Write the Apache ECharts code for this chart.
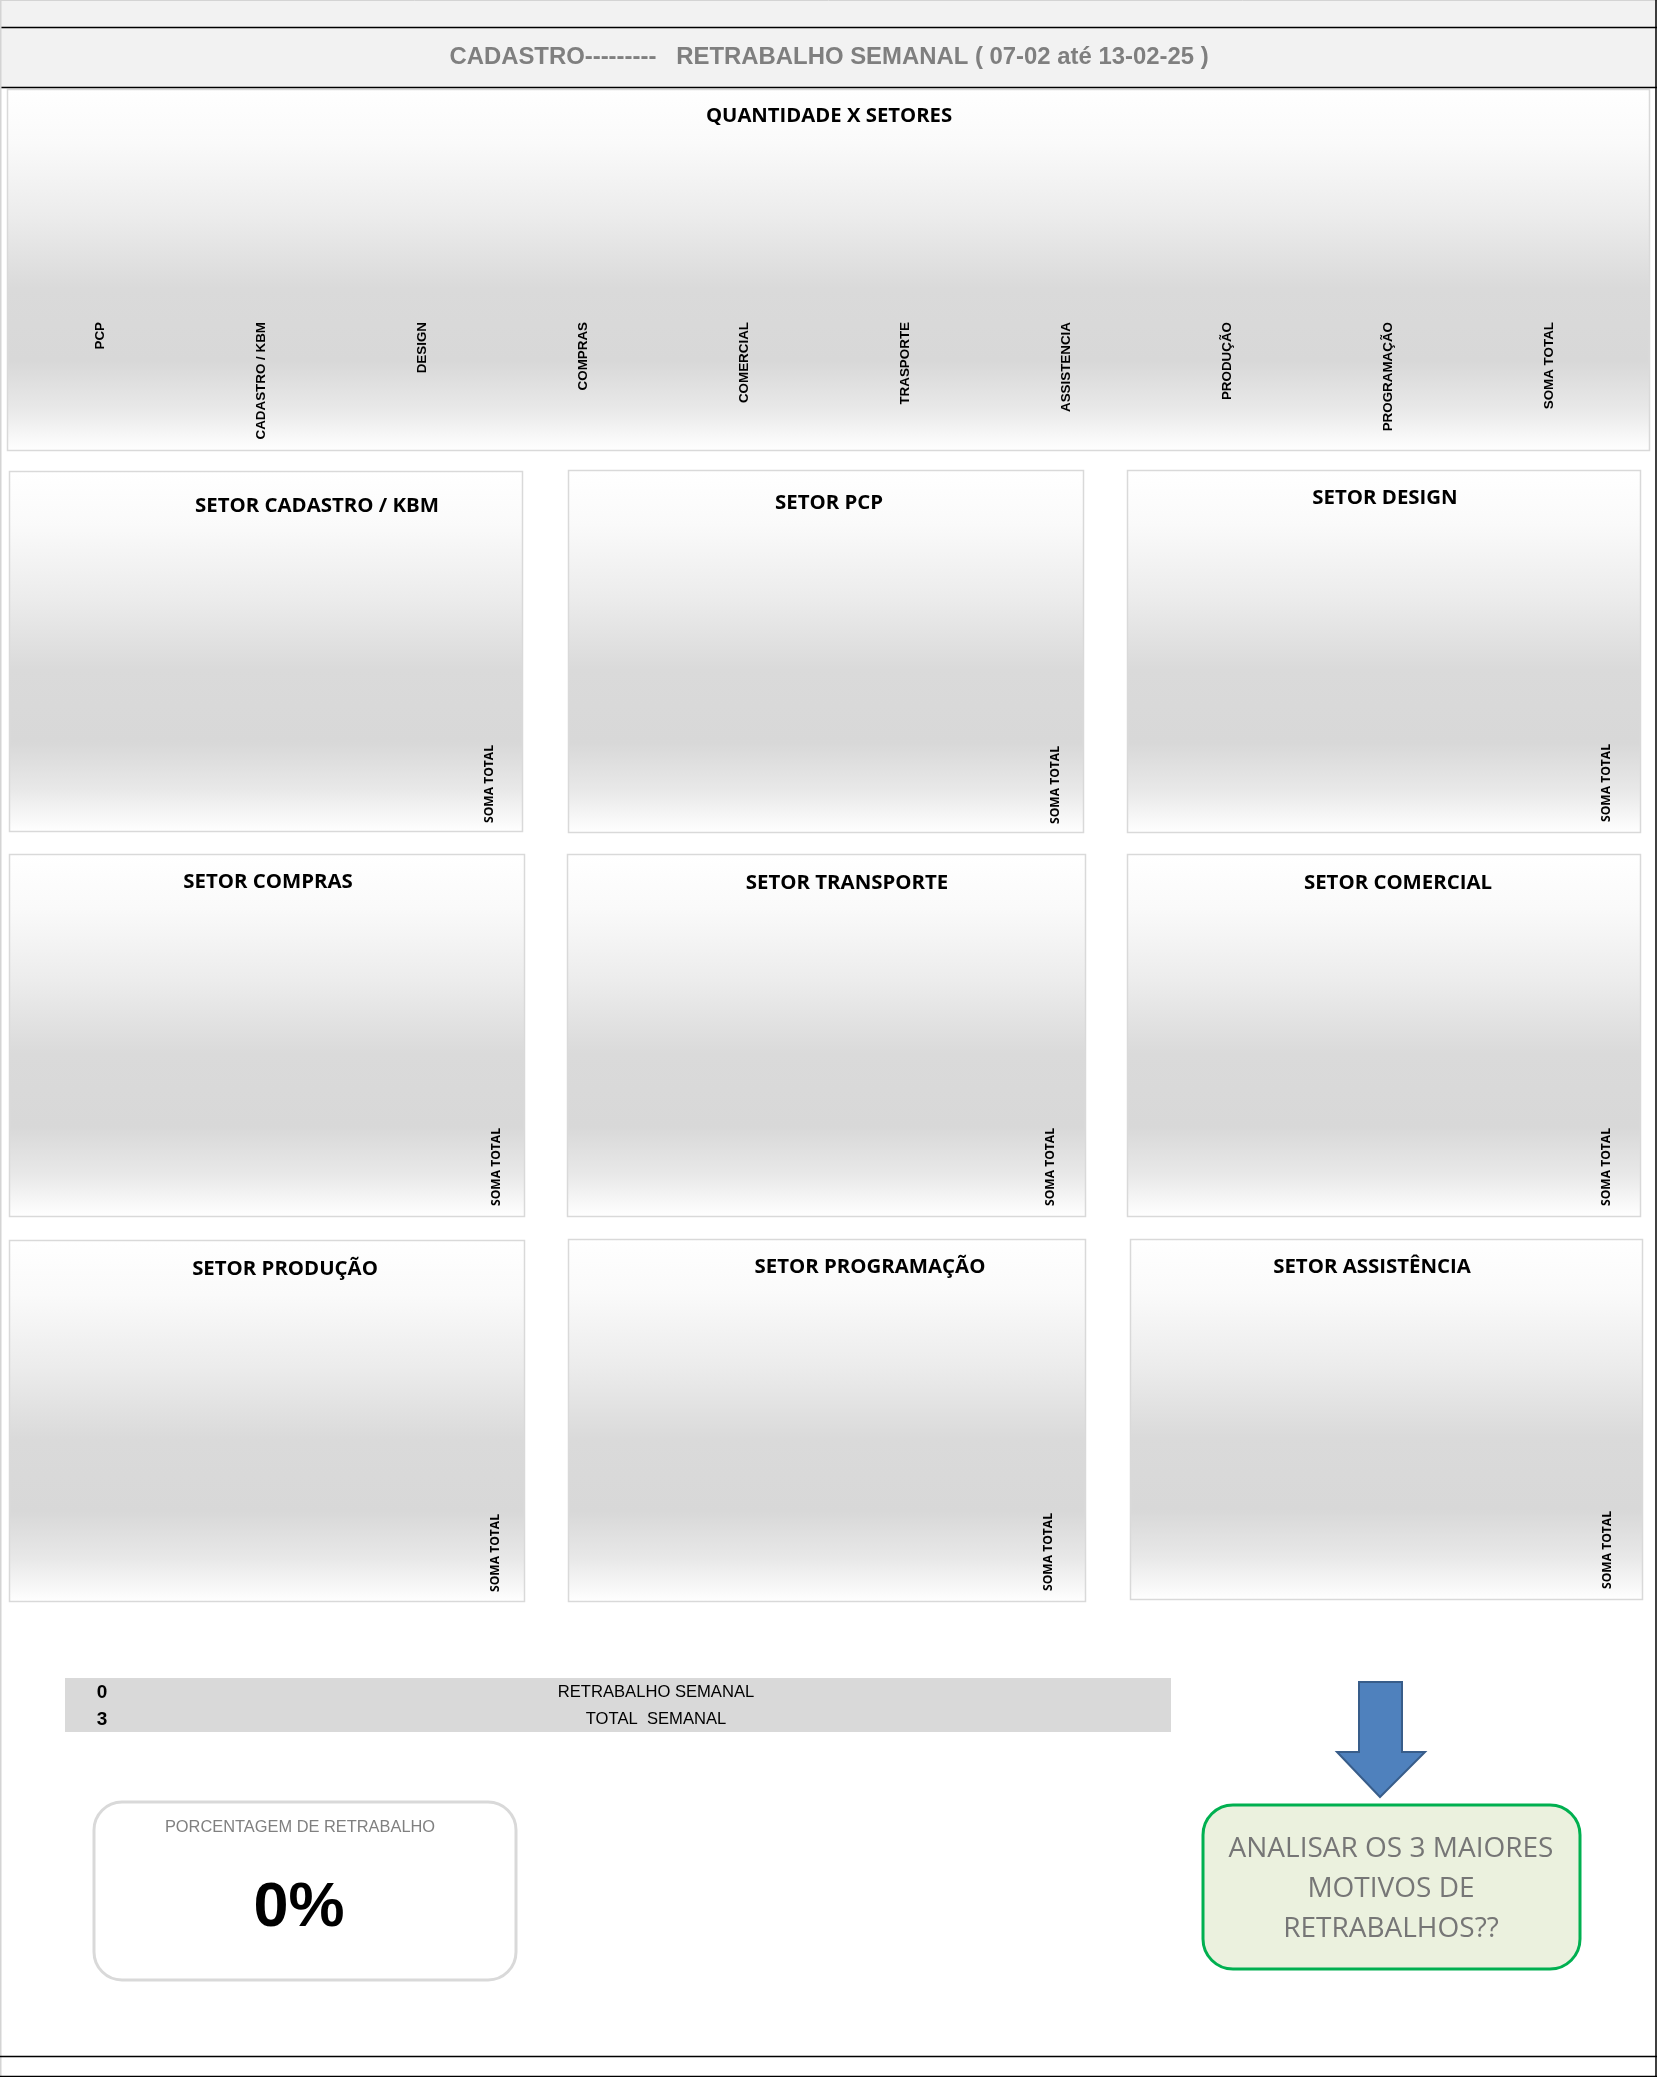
<!DOCTYPE html>
<html>
<head>
<meta charset="utf-8">
<script src="https://cdn.jsdelivr.net/npm/echarts@6/dist/echarts.min.js"></script>
<style>
html,body{margin:0;padding:0;background:#ffffff;}
#chart{width:1657px;height:2077px;}
</style>
</head>
<body>
<div id="chart"></div>
<script>
// ---------------- DATA ----------------
const pageTitle = 'CADASTRO---------   RETRABALHO SEMANAL ( 07-02 até 13-02-25 )';
const mainTitle = 'QUANTIDADE X SETORES';
const sectorCategories = ['PCP', 'CADASTRO / KBM', 'DESIGN', 'COMPRAS', 'COMERCIAL', 'TRASPORTE', 'ASSISTENCIA', 'PRODUÇÃO', 'PROGRAMAÇÃO', 'SOMA TOTAL'];
const sectorValues = [0, 0, 0, 0, 0, 0, 0, 0, 0, 0];
const panelTitles = ['SETOR CADASTRO / KBM', 'SETOR PCP', 'SETOR DESIGN', 'SETOR COMPRAS', 'SETOR TRANSPORTE', 'SETOR COMERCIAL', 'SETOR PRODUÇÃO', 'SETOR PROGRAMAÇÃO', 'SETOR ASSISTÊNCIA'];
const panelCategories = ['SOMA TOTAL'];
const panelValues = [[0], [0], [0], [0], [0], [0], [0], [0], [0]];
const summaryLabels = ['RETRABALHO SEMANAL', 'TOTAL  SEMANAL'];
const summaryValues = [0, 3];
const percentLabel = 'PORCENTAGEM DE RETRABALHO';
const calloutLines = ['ANALISAR OS 3 MAIORES', 'MOTIVOS DE', 'RETRABALHOS??'];

// ---------------- LAYOUT ----------------
const W = 1657, H = 2077;
const NARROW = '"Liberation Sans Narrow", "Arial Narrow", "Liberation Sans", sans-serif';
const ARIAL = '"Liberation Sans", Arial, sans-serif';
const CALIBRI = '"Open Sans", "Noto Sans", sans-serif';

const mctx = document.createElement('canvas').getContext('2d');
function fitSize(text, weight, family, width) {
  mctx.font = weight + ' 100px ' + family;
  return +(100 * width / mctx.measureText(text).width).toFixed(1);
}

const headerSize = fitSize(pageTitle, 'bold', NARROW, 758);
const mainTitleSize = fitSize(mainTitle, 'bold', CALIBRI, 246);
const panelTitleSize = fitSize(panelTitles[0], 'bold', CALIBRI, 244);
const mainLabelSize = fitSize(sectorCategories[1], 'bold', ARIAL, 118);
const panelLabelSize = fitSize(panelCategories[0], 'bold', CALIBRI, 78);
const tableSize = fitSize(summaryLabels[0], 'normal', NARROW, 196);
const pctLabelSize = fitSize(percentLabel, 'normal', NARROW, 271);
const calloutSize = fitSize(calloutLines[0], 'normal', CALIBRI, 325);

const panelBg = {
  type: 'linear', x: 0, y: 0, x2: 0, y2: 1,
  colorStops: [
    {offset: 0, color: '#ffffff'},
    {offset: 0.15, color: '#fafafa'},
    {offset: 0.35, color: '#ececec'},
    {offset: 0.55, color: '#dadada'},
    {offset: 0.75, color: '#d8d8d8'},
    {offset: 0.88, color: '#e8e8e8'},
    {offset: 1, color: '#ffffff'}
  ]
};

// main chart box
const mainBox = {x: 7, y: 89, w: 1642, h: 361, tx: 829, ty: 116};
const mainAxis = {left: 20, right: 1630, labelTop: 322};

// small panels (box, title centre, label centre x / top y)
const panels = [
  {x: 9, y: 471, w: 513, h: 360, tx: 317, ty: 506, lx: 489.5, ly: 745},
  {x: 568, y: 470, w: 515, h: 362, tx: 829, ty: 503, lx: 1055.5, ly: 746},
  {x: 1127, y: 470, w: 513, h: 362, tx: 1385, ty: 498, lx: 1606.5, ly: 744},
  {x: 9, y: 854, w: 515, h: 362, tx: 268, ty: 882, lx: 496.5, ly: 1128},
  {x: 567, y: 854, w: 518, h: 362, tx: 847, ty: 883, lx: 1050.5, ly: 1128},
  {x: 1127, y: 854, w: 513, h: 362, tx: 1398, ty: 883, lx: 1606.5, ly: 1128},
  {x: 9, y: 1240, w: 515, h: 361, tx: 285, ty: 1269, lx: 495.5, ly: 1514},
  {x: 568, y: 1239, w: 517, h: 362, tx: 870, ty: 1267, lx: 1048.5, ly: 1513},
  {x: 1130, y: 1239, w: 512, h: 360, tx: 1372, ty: 1267, lx: 1607.5, ly: 1511}
];

function txt(text, x, y, size, opts) {
  opts = opts || {};
  return {
    type: 'text', z: opts.z || 5,
    style: {
      text: text, x: x, y: y,
      fill: opts.color || '#000000',
      fontSize: size, fontFamily: opts.family || ARIAL, fontWeight: opts.weight || 'normal',
      align: opts.align || 'center', verticalAlign: 'middle',
      textAlign: opts.align || 'center', textVerticalAlign: 'middle'
    }
  };
}
function line(x1, y1, x2, y2, color, width) {
  return {type: 'line', z: 4, shape: {x1: x1, y1: y1, x2: x2, y2: y2}, style: {stroke: color, lineWidth: width}};
}

const graphics = [];
// header band
graphics.push({type: 'rect', z: -10, shape: {x: 0, y: 0, width: W, height: 88}, style: {fill: '#f2f2f2'}});
graphics.push(line(0, 0.5, W, 0.5, '#d4d4d4', 1));
graphics.push(line(0, 27.5, W, 27.5, '#000000', 1.5));
graphics.push(line(0, 87.5, W, 87.5, '#000000', 1.5));
graphics.push(line(0.75, 0, 0.75, H, '#d4d4d4', 1.5));
graphics.push(line(1656, 0, 1656, H, '#000000', 1.5));
graphics.push(line(0, 2056.5, W, 2056.5, '#000000', 1.5));
graphics.push(line(0, 2076.5, W, 2076.5, '#000000', 1.5));
graphics.push(txt(pageTitle, 829, 57, headerSize, {family: NARROW, weight: 'bold', color: '#7f7f7f'}));

// chart boxes
graphics.push({type: 'rect', z: -10, shape: {x: mainBox.x + 0.5, y: mainBox.y + 0.5, width: mainBox.w, height: mainBox.h}, style: {fill: panelBg, stroke: '#d9d9d9', lineWidth: 1.5}});
panels.forEach(function (p) {
  graphics.push({type: 'rect', z: -10, shape: {x: p.x + 0.5, y: p.y + 0.5, width: p.w, height: p.h}, style: {fill: panelBg, stroke: '#d9d9d9', lineWidth: 1.5}});
});

// summary table
graphics.push({type: 'rect', z: 1, shape: {x: 65, y: 1678, width: 1106, height: 54}, style: {fill: '#d9d9d9'}});
summaryLabels.forEach(function (lab, i) {
  const y = [1693, 1720][i];
  graphics.push(txt(String(summaryValues[i]), 102, y, 19, {family: ARIAL, weight: 'bold'}));
  graphics.push(txt(lab, 656, y - 1, tableSize, {family: NARROW}));
});

// percentage box
const pct = summaryValues[1] ? Math.round(summaryValues[0] / summaryValues[1] * 100) : 0;
const pctText = pct + '%';
const pctSize = fitSize(pctText, 'bold', NARROW, 91);
graphics.push({type: 'rect', z: 1, shape: {x: 94, y: 1802, width: 422, height: 178, r: 28}, style: {fill: '#ffffff', stroke: '#d9d9d9', lineWidth: 3}});
graphics.push(txt(percentLabel, 300, 1827, pctLabelSize, {family: NARROW, color: '#808080'}));
graphics.push(txt(pctText, 299, 1909, pctSize, {family: NARROW, weight: 'bold'}));

// arrow
graphics.push({
  type: 'polygon', z: 2,
  shape: {points: [[1359, 1682], [1402, 1682], [1402, 1752], [1425, 1752], [1380, 1797], [1337, 1752], [1359, 1752]]},
  style: {fill: '#4f81bd', stroke: '#385d8a', lineWidth: 2}
});
// callout box
graphics.push({type: 'rect', z: 1, shape: {x: 1203, y: 1805, width: 377, height: 164, r: 30}, style: {fill: '#ebf1de', stroke: '#00b050', lineWidth: 3}});
calloutLines.forEach(function (l, i) {
  graphics.push(txt(l, 1391, [1849, 1889, 1929][i], calloutSize, {family: CALIBRI, color: '#767676'}));
});

// ---------------- CHARTS ----------------
const titles = [], grids = [], xAxes = [], yAxes = [], series = [];

titles.push({text: mainTitle, left: mainBox.tx, top: mainBox.ty, textAlign: 'center', textVerticalAlign: 'middle', padding: 0, z: 20,
  textStyle: {fontSize: mainTitleSize, fontWeight: 'bold', fontFamily: CALIBRI, color: '#000000'}});
grids.push({left: mainAxis.left, width: mainAxis.right - mainAxis.left, top: 150, height: mainAxis.labelTop - 4 - 150, containLabel: false});
xAxes.push({type: 'category', gridIndex: 0, data: sectorCategories, z: 20,
  axisLine: {show: false}, axisTick: {show: false}, splitLine: {show: false},
  axisLabel: {interval: 0, rotate: 90, margin: 4, fontSize: mainLabelSize, fontWeight: 'bold', fontFamily: ARIAL, color: '#000000'}});
yAxes.push({type: 'value', gridIndex: 0, min: 0, show: false});
series.push({type: 'bar', xAxisIndex: 0, yAxisIndex: 0, data: sectorValues, itemStyle: {color: '#4f81bd'}, barWidth: '60%', z: 20});

panels.forEach(function (p, i) {
  const gi = i + 1;
  titles.push({text: panelTitles[i], left: p.tx, top: p.ty, textAlign: 'center', textVerticalAlign: 'middle', padding: 0, z: 20,
    textStyle: {fontSize: panelTitleSize, fontWeight: 'bold', fontFamily: CALIBRI, color: '#000000'}});
  grids.push({left: p.lx - 20, width: 40, top: p.y + 60, height: p.ly - 4 - (p.y + 60), containLabel: false});
  xAxes.push({type: 'category', gridIndex: gi, data: panelCategories, z: 20,
    axisLine: {show: false}, axisTick: {show: false}, splitLine: {show: false},
    axisLabel: {interval: 0, rotate: 90, margin: 4, fontSize: panelLabelSize, fontWeight: 'bold', fontFamily: CALIBRI, color: '#000000'}});
  yAxes.push({type: 'value', gridIndex: gi, min: 0, show: false});
  series.push({type: 'bar', xAxisIndex: gi, yAxisIndex: gi, data: panelValues[i], itemStyle: {color: '#4f81bd'}, barWidth: '60%', z: 20});
});

const chart = echarts.init(document.getElementById('chart'), null, {renderer: 'canvas', width: W, height: H});
chart.setOption({
  animation: false,
  backgroundColor: '#ffffff',
  title: titles,
  grid: grids,
  xAxis: xAxes,
  yAxis: yAxes,
  series: series,
  graphic: {elements: graphics}
});
</script>
</body>
</html>
